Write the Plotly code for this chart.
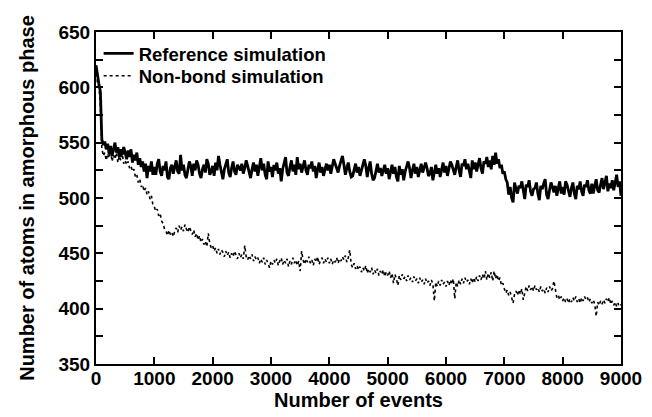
import plotly.graph_objects as go

# Event grid (every 25 events, 0..9000)
EVENT_STEP = 25
EVENT_MAX = 9000

X_TICKS = [0, 1000, 2000, 3000, 4000, 5000, 6000, 7000, 8000, 9000]
Y_TICKS = [350, 400, 450, 500, 550, 600, 650]

SERIES_NAMES = ["Reference simulation", "Non-bond simulation"]

# Reference simulation (rows of 20 values = 500 events each)
REFERENCE = [
    620, 610, 603, 596, 553, 548, 551, 544, 549, 540, 547, 538, 545, 550, 541, 546, 537, 544, 539, 546,
    541, 535, 543, 537, 544, 532, 539, 534, 541, 530, 536, 528, 533, 524, 531, 518, 529, 524, 533, 521,
    528, 521, 531, 535, 524, 520, 529, 525, 533, 519, 517, 527, 530, 522, 528, 534, 524, 522, 539, 525,
    530, 521, 518, 527, 533, 529, 520, 531, 525, 534, 530, 522, 518, 526, 530, 523, 535, 531, 521, 524,
    529, 520, 532, 525, 538, 530, 522, 517, 526, 531, 535, 523, 519, 527, 533, 524, 521, 530, 528, 525,
    531, 522, 527, 534, 529, 523, 518, 526, 532, 524, 530, 520, 528, 536, 525, 531, 521, 517, 533, 524,
    528, 519, 530, 525, 532, 522, 527, 515, 526, 531, 537, 523, 520, 528, 534, 524, 530, 521, 537, 526,
    531, 523, 528, 534, 525, 521, 530, 527, 533, 524, 529, 518, 526, 532, 523, 528, 520, 527, 531, 525,
    530, 522, 528, 535, 531, 526, 523, 529, 534, 538, 530, 521, 527, 532, 524, 519, 520, 526, 531, 523,
    528, 520, 526, 531, 535, 529, 519, 527, 533, 522, 516, 518, 525, 531, 523, 527, 520, 526, 530, 522,
    527, 517, 525, 530, 522, 528, 519, 515, 529, 521, 526, 516, 524, 529, 533, 527, 518, 525, 531, 522,
    528, 519, 526, 531, 523, 529, 532, 527, 520, 522, 528, 516, 525, 530, 522, 527, 519, 526, 532, 523,
    529, 520, 527, 533, 530, 524, 521, 528, 534, 525, 519, 531, 529, 535, 526, 531, 523, 518, 534, 526,
    532, 524, 530, 536, 527, 522, 533, 531, 537, 528, 534, 526, 538, 530, 541, 531, 535, 527, 530, 522,
    524, 517, 514, 503, 510, 500, 496, 514, 508, 504, 511, 509, 515, 505, 499, 512, 510, 516, 506, 502,
    508, 509, 514, 504, 498, 511, 508, 513, 517, 503, 499, 507, 514, 510, 505, 511, 502, 509, 515, 504,
    510, 503, 515, 512, 505, 501, 509, 514, 504, 499, 511, 508, 515, 506, 502, 512, 510, 516, 507, 504,
    513, 504, 511, 517, 507, 505, 512, 518, 508, 514, 520, 506, 513, 509, 516, 507, 514, 521, 510, 515,
    502,
]

# Non-bond simulation (rows of 20 values = 500 events each)
NON_BOND = [
    618, 604, 600, 585, 545, 538, 541, 534, 540, 536, 543, 533, 539, 535, 541, 532, 538, 534, 540, 531,
    534, 530, 533, 527, 529, 524, 526, 519, 521, 514, 517, 510, 512, 506, 509, 503, 506, 499, 502, 494,
    492, 488, 490, 484, 486, 479, 477, 472, 470, 466, 471, 467, 469, 465, 470, 473, 469, 475, 471, 474,
    470, 476, 472, 469, 474, 470, 467, 471, 465, 468, 462, 466, 460, 463, 458, 461, 456, 468, 459, 455,
    457, 452, 455, 450, 454, 449, 453, 451, 447, 452, 448, 451, 446, 450, 447, 452, 448, 445, 450, 446,
    449, 445, 457, 447, 444, 448, 445, 449, 443, 447, 444, 446, 441, 445, 442, 446, 440, 444, 441, 437,
    443, 440, 444, 441, 445, 439, 443, 446, 440, 444, 441, 445, 438, 443, 440, 446, 441, 444, 439, 443,
    434, 452, 444, 440, 445, 442, 447, 441, 444, 439, 445, 442, 447, 440, 444, 446, 441, 445, 442, 446,
    441, 445, 440, 444, 442, 446, 441, 445, 443, 447, 444, 448, 442, 446, 453, 440, 437, 441, 436, 439,
    435, 438, 433, 437, 434, 439, 432, 436, 433, 437, 431, 435, 432, 436, 430, 434, 431, 435, 429, 433,
    430, 434, 428, 432, 423, 431, 427, 421, 430, 426, 431, 427, 429, 425, 430, 426, 428, 424, 429, 425,
    427, 423, 428, 424, 426, 422, 427, 423, 425, 421, 426, 422, 407, 424, 420, 425, 421, 426, 422, 424,
    420, 425, 421, 426, 422, 427, 409, 424, 420, 426, 422, 427, 423, 428, 424, 426, 422, 427, 423, 428,
    424, 429, 425, 430, 426, 431, 427, 434, 426, 432, 428, 433, 425, 434, 427, 431, 425, 428, 421, 423,
    418, 414, 417, 412, 415, 410, 405, 413, 416, 412, 417, 413, 418, 408, 416, 420, 416, 421, 417, 420,
    416, 421, 417, 419, 415, 420, 416, 418, 414, 419, 415, 420, 416, 418, 425, 417, 410, 412, 408, 411,
    407, 410, 406, 409, 405, 409, 406, 410, 407, 411, 406, 409, 405, 410, 407, 411, 408, 410, 406, 409,
    405, 408, 404, 393, 406, 403, 407, 404, 408, 405, 409, 406, 410, 404, 407, 403, 406, 402, 405, 399,
    404,
]

EVENTS = list(range(0, EVENT_MAX + 1, EVENT_STEP))
assert len(REFERENCE) == len(EVENTS), len(REFERENCE)
assert len(NON_BOND) == len(EVENTS), len(NON_BOND)

FONT = "Liberation Sans, Arial, Helvetica, sans-serif"

fig = go.Figure()
fig.add_trace(go.Scatter(
    x=EVENTS, y=REFERENCE, mode="lines", name=SERIES_NAMES[0],
    line=dict(color="black", width=2.8), legend="legend",
))
fig.add_trace(go.Scatter(
    x=EVENTS, y=NON_BOND, mode="lines", name=SERIES_NAMES[1],
    line=dict(color="black", width=1.6, dash="dot"), legend="legend2",
))

axis_common = dict(
    showline=True, linecolor="black", linewidth=2, mirror="ticks",
    ticks="inside", ticklen=7, tickwidth=1.5, tickcolor="black",
    showgrid=False, zeroline=False,
    tickfont=dict(family=FONT, size=19, color="black", weight="bold"),
)

fig.update_xaxes(
    range=[0, EVENT_MAX], tickvals=X_TICKS,
    title=dict(text="Number of events",
               font=dict(family=FONT, size=20, color="black", weight="bold"),
               standoff=4),
    ticklabelstandoff=-4,
    **axis_common,
)
fig.update_yaxes(
    range=[350, 650], tickvals=Y_TICKS,
    minor=dict(dtick=25, ticks="inside", ticklen=7, tickwidth=1.5, tickcolor="black"),
    title=dict(text="Number of atoms in amorphous phase",
               font=dict(family=FONT, size=20, color="black", weight="bold"),
               standoff=18),
    **axis_common,
)

legend_common = dict(
    x=0.005, xanchor="left", yanchor="middle",
    bgcolor="rgba(0,0,0,0)", borderwidth=0,
    font=dict(family=FONT, size=18.5, color="black", weight="bold"),
    itemwidth=30,
)

fig.update_layout(
    width=652, height=417,
    margin=dict(l=88, r=39, t=24, b=61),
    paper_bgcolor="white", plot_bgcolor="white",
    showlegend=True,
    legend=dict(y=0.934, **legend_common),
    legend2=dict(y=0.867, **legend_common),
)

fig.write_html("out.html")
